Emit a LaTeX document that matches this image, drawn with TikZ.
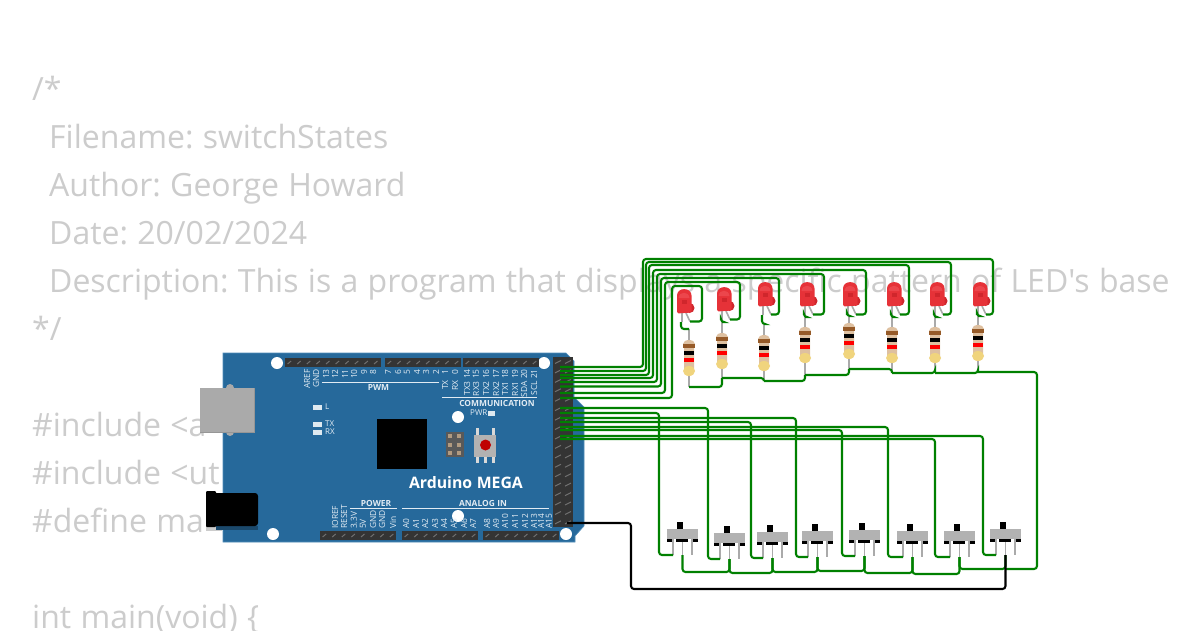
\documentclass[tikz,border=0pt]{standalone}
\usepackage{fontspec}
\setmainfont[Ligatures=TeXOff, WordSpace=1.12]{Open Sans}
\frenchspacing

\definecolor{codeGray}{RGB}{204,204,204}
\definecolor{boardBlue}{RGB}{38,105,155}
\definecolor{boardEdge}{RGB}{80,140,185}
\definecolor{labelWhite}{RGB}{225,235,243}
\definecolor{headerDark}{RGB}{52,52,52}
\definecolor{pinGray}{RGB}{112,112,112}
\definecolor{wireGreen}{RGB}{0,128,0}
\definecolor{ledRed}{RGB}{230,50,56}
\definecolor{ledDark}{RGB}{208,38,44}
\definecolor{ledLight}{RGB}{236,70,76}
\definecolor{legGray}{RGB}{170,170,170}
\definecolor{resTan}{RGB}{222,192,160}
\definecolor{resGold}{RGB}{240,212,125}
\definecolor{bandBrown}{RGB}{150,90,40}
\definecolor{switchGray}{RGB}{178,178,178}

\tikzset{
	codetext/.style={anchor=base west, inner sep=0pt, text=codeGray, font=\fontsize{32}{38}\selectfont},
	toplabel/.style={rotate=90, anchor=east, inner sep=0pt, text=labelWhite, font=\fontsize{8.4}{9}\selectfont},
	botlabel/.style={rotate=90, anchor=west, inner sep=0pt, text=labelWhite, font=\fontsize{8.4}{9}\selectfont},
	sidelabel/.style={anchor=west, inner sep=0pt, text=labelWhite, font=\fontsize{8}{9}\selectfont},
	boldlabel/.style={inner sep=0pt, text=labelWhite, font=\bfseries\fontsize{8.4}{9}\selectfont},
	silk/.style={draw=labelWhite, line width=0.8pt},
	wire/.style={draw=wireGreen, line width=2.1pt, rounded corners=3pt},
	blackwire/.style={draw=black, line width=2.1pt, rounded corners=3pt},
	leg/.style={draw=legGray, line width=1.6pt},
}

\begin{document}
\begin{tikzpicture}[x=1pt, y=-1pt]

	\useasboundingbox[fill=white] (0,0) rectangle (1200,630);

	% Code text behind the circuit
	\foreach \tx/\ty/\txt [count=\n] in {
		32/100/{/*},
		49/148/{Filename: switchStates},
		49/196/{Author: George Howard},
		49/244/{Date: 20/02/2024},
		49/292/{Description: This is a program that displays a specific pattern of LED's base},
		32/340/{*/},
		32/436/{\#include <a},
		32/484/{\#include <ut},
		32/532/{\#define ma},
		32/628/{int main(void) \{}}
		\node[codetext] (codeline\n) at (\tx,\ty) {\txt};

	% Board
	\fill[boardBlue, draw=boardEdge, line width=0.6pt] (223,353) -- (566,353) -- (574,361) -- (574,397) -- (584,407) -- (584,526) -- (575,536) -- (575,542) -- (223,542) -- cycle;

	% Mounting holes
	\foreach \hx/\hy in {277/363, 273/534, 544/363, 458/417, 458/516, 566/534}
		\fill[white] (\hx,\hy) circle (6);

	% USB socket
	\fill[legGray] (230,388) circle (4);
	\fill[legGray] (230,432) circle (4);
	\fill[legGray!88!black] (200,388) rectangle (255,433);
	\fill[legGray] (200,388) rectangle (254,431.5);

	% Power jack
	\fill[legGray!60] (206,526) rectangle (222,531);
	\fill[boardBlue!70!black] (216,526) rectangle (258,530);
	\fill[black, rounded corners=3pt] (212,493) rectangle (258,526);
	\fill[black, rounded corners=1pt] (206,491) rectangle (216,527);

	% Headers on the top and bottom edge
	\foreach \bx/\by/\pins in {285/358/10, 385/358/8, 463/358/8, 320/531/8, 402/531/8, 483/531/8} {
		\fill[headerDark] (\bx,\by) rectangle (\bx+\pins*9.6-0.5,\by+9);
		\foreach \k in {1,...,\pins}
			\draw[pinGray, line width=1pt] (\bx+\k*9.6-7,\by+6) -- (\bx+\k*9.6-3.5,\by+3);
	}

	% Header on the right edge
	\fill[headerDark] (553,357) rectangle (573,527);
	\foreach \k in {1,...,18} {
		\draw[pinGray, line width=1pt] (555,357+\k*9.44-3) -- (561,357+\k*9.44-6);
		\draw[pinGray, line width=1pt] (565,357+\k*9.44-3) -- (571,357+\k*9.44-6);
	}

	% Top labels
	\foreach \lx/\txt [count=\n] in {307/AREF, 316/GND, 326/13, 335/12, 345/11, 354/10, 364/9, 373/8, 388/7, 398/6, 407/5, 417/4, 426/3, 436/2,
		445/1, 455/0, 467/14, 476/15, 486/16, 496/17, 505/18, 515/19, 524/20, 534/21}
		\node[toplabel] (toplbl\n) at (\lx,369) {\txt};
	\foreach \lx/\txt [count=\n] in {445/TX, 455/RX, 467/TX3, 476/RX3, 486/TX2, 496/RX2, 505/TX1, 515/RX1, 524/SDA, 534/SCL}
		\node[toplabel] (commlbl\n) at (\lx,\ifnum\n<3 380\else 381\fi) {\txt};

	% Bottom labels
	\foreach \lx/\txt [count=\n] in {335/IOREF, 344/RESET, 354/3.3V, 363/5V, 373/GND, 382/GND, 393/Vin,
		406/A0, 416/A1, 425/A2, 435/A3, 444/A4, 454/A5, 464/A6, 473/A7,
		487/A8, 496/A9, 505/A10, 515/A11, 525/A12, 534/A13, 541/A14, 549/A15}
		\node[botlabel] (botlbl\n) at (\lx,529) {\txt};

	% Group titles
	\node[boldlabel] (pwmlbl) at (378.5,387) {PWM};
	\node[boldlabel] (commlbl) at (497,403) {COMMUNICATION};
	\node[boldlabel] (powerlbl) at (376,503.5) {POWER};
	\node[boldlabel] (analoglbl) at (483,503.5) {ANALOG IN};
	\draw[silk] (322,382) -- (439,382);
	\draw[silk] (442,397) -- (537,397);
	\draw[silk] (350,508) -- (397,508);
	\draw[silk] (402,508) -- (549,508);

	% Small leds on the board
	\foreach \sx/\sy/\txt in {313/407/L, 313/424.5/TX, 313/432.5/RX} {
		\fill[white!85!boardBlue] (\sx,\sy-2.5) rectangle (\sx+9,\sy+2.5);
		\node[sidelabel] (board\txt) at (\sx+12,\sy-0.5) {\txt};
	}
	\node[sidelabel] (boardpwr) at (470,413) {PWR};
	\fill[white!85!boardBlue] (488,411) rectangle (495,416);

	% Chip, ICSP and reset button
	\fill[black] (376.5,419) rectangle (427,469);
	\fill[black!65] (446,432) rectangle (464,457);
	\foreach \ix in {449.5, 459}
		\foreach \iy in {436, 444.5, 453}
			\fill[resTan!80!black] (\ix-2,\iy-2) rectangle (\ix+2,\iy+2);
	\foreach \px in {477, 493}
		\fill[white!85!black] (\px-1.5,428) rectangle (\px+1.5,436);
	\foreach \px in {477, 485, 493}
		\fill[white!85!black] (\px-1.5,456) rectangle (\px+1.5,463);
	\fill[switchGray] (474,435) rectangle (496,457);
	\fill[red!75!black] (485.5,445) circle (5.5);
	\node[inner sep=0pt, text=white, font=\bfseries\fontsize{15.8}{18}\selectfont] (boardname) at (466,482.5) {Arduino MEGA};

	% Resistors
	\foreach \i/\rx/\rtop/\rbody/\rbot in {1/689/329/340/387, 2/722/322/333/378, 3/764/324/335/381, 4/805/317/327/375,
		5/849/316/323/369, 6/892/317/327/373, 7/935/317/327/373, 8/978/316/325/372} {
		\coordinate (resT\i) at (\rx,\rtop);
		\coordinate (resB\i) at (\rx,\rbot);
		\draw[leg] (resT\i) -- (resB\i);
		\fill[resTan, rounded corners=3pt] (\rx-5,\rbody+3) rectangle (\rx+5,\rbody+34);
		\fill[resTan] (\rx,\rbody+4) ellipse (6 and 4);
		\fill[resGold] (\rx,\rbody+31) ellipse (6 and 5);
		\fill[bandBrown] (\rx-6,\rbody+4) rectangle (\rx+6,\rbody+8);
		\fill[black] (\rx-5,\rbody+11) rectangle (\rx+5,\rbody+15);
		\fill[red] (\rx-5,\rbody+18) rectangle (\rx+5,\rbody+22);
	}

	% LEDs
	\foreach \i/\lx/\ly in {1/677/289, 2/717/287, 3/758/282, 4/800/282, 5/843/282, 6/887/282, 7/930/282, 8/973/282} {
		\coordinate (ledA\i) at (\lx+4,\ly+33);
		\coordinate (ledC\i) at (\lx+13,\ly+32.5);
		\draw[leg] (\lx+5,\ly+23) -- (\lx+5,\ly+33);
		\draw[leg] (\lx+9,\ly+24) -- (ledC\i);
		\fill[ledDark] (\lx+12.5,\ly+19) circle (5);
		\fill[ledRed, rounded corners=1.5pt] (\lx,\ly+24.5) -- (\lx,\ly+8) .. controls (\lx,\ly-2) and (\lx+14.5,\ly-2) .. (\lx+14.5,\ly+8) -- (\lx+14.5,\ly+23.5) -- cycle;
		\fill[ledLight] (\lx+1.5,\ly+9) .. controls (\lx+2,\ly+2) and (\lx+12,\ly+2) .. (\lx+12.5,\ly+9) -- cycle;
		\fill[ledDark] (\lx+4.5,\ly+11) rectangle (\lx+9.5,\ly+15);
	}

	% Switches
	\foreach \i/\bx/\by in {1/667/529, 2/714/533, 3/757/532, 4/802/531, 5/849/530, 6/897/531, 7/944/531, 8/990/529} {
		\coordinate (swL\i) at (\bx+6,\by+26);
		\coordinate (swM\i) at (\bx+15.5,\by+26);
		\coordinate (swR\i) at (\bx+25,\by+26);
		\fill[black] (\bx+10,\by-7) rectangle (\bx+15.5,\by);
		\fill[switchGray] (\bx,\by) rectangle (\bx+31,\by+10);
		\fill[black] (\bx,\by+10) rectangle (\bx+5,\by+13);
		\fill[black] (\bx+9,\by+10) rectangle (\bx+21,\by+13);
		\fill[black] (\bx+25.5,\by+10) rectangle (\bx+31,\by+13);
		\draw[leg] (\bx+6,\by+10) -- (swL\i);
		\draw[leg] (\bx+15.5,\by+13) -- (swM\i);
		\draw[leg] (\bx+25,\by+10) -- (swR\i);
	}

	% Wires from the header to the LEDs
	\foreach \i/\hy/\vx/\topy/\rx in {1/398/672/286/702, 2/393/665/282/740, 3/386.5/661/278/779, 4/382/657/274/824,
		5/378/653/270/866, 6/375/649/265/909, 7/371/646/262/951, 8/367/643/259/993} {
		\coordinate (hdrLed\i) at (560,\hy);
		\draw[wire] (hdrLed\i) -| (\vx,\topy) -| (\rx,0 |- ledC\i) -- (ledC\i);
	}

	% LED to resistor
	\foreach \i in {1,...,8}
		\draw[wire] (ledA\i) |- (resT\i);

	% Resistors to the common line
	\foreach \a/\b in {1/2, 2/3, 3/4, 4/5, 5/6, 6/7, 7/8}
		\draw[wire] (resB\a) -| (resB\b);
	\coordinate (swBus8) at (1005,569);
	\draw[wire] (resB8) -| (1037,569) -- (swBus8);

	% Wires from the header to the switches
	\foreach \i/\hy/\vx in {2/408/708, 1/413/659, 4/418/796, 3/422/751, 6/427/888, 5/430/842, 8/436/983, 7/439/935} {
		\coordinate (hdrSw\i) at (560,\hy);
		\draw[wire] (hdrSw\i) -| (\vx,\hy+100) |- (swL\i);
	}

	% Switch middle pins
	\foreach \a/\b/\busy in {1/2/572, 2/3/573, 3/4/572, 4/5/571, 5/6/573, 6/7/574, 7/8/569}
		\draw[wire] (swM\a) -- (swM\a |- 0,\busy) -- (swM\b |- 0,\busy) -- (swM\b);

	% Ground wire
	\coordinate (hdrGnd) at (567,523);
	\draw[blackwire] (hdrGnd) -| (631,589) -| (swM8);

\end{tikzpicture}
\end{document}
